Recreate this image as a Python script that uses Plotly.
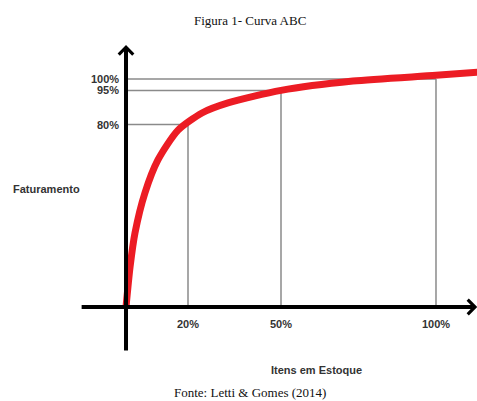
import plotly.graph_objects as go

# ---- data (percent) ----
itens_curve = [0, 1.3, 2.9, 6.1, 10.3, 16.8, 24.5, 32.9, 50, 73.2, 100, 113.5]
fatur_curve = [0, 17.5, 32.5, 50, 64.5, 77.6, 85.1, 89.5, 95, 99.1, 101.6, 103.0]

itens_ticks = [20, 50, 100]
itens_labels = ["20%", "50%", "100%"]
fatur_ticks = [80, 95, 100]
fatur_labels = ["80%", "95%", "100%"]

title_text = "Figura 1- Curva ABC"
source_text = "Fonte: Letti & Gomes (2014)"
xlabel = "Itens em Estoque"
ylabel = "Faturamento"

W, H = 477, 401
# axis ranges chosen so that the drawing fills the page
x_range = [-40.65, 113.23]
y_range = [-41.23, 134.65]

fig = go.Figure()

RED = "#ec1c24"
GRAY = "#8a8a8a"
LABEL_FONT = dict(family="Liberation Sans, Arial, sans-serif", size=11, color="#333333")

shapes = []
for xv, yv in zip(itens_ticks, fatur_ticks):
    shapes.append(dict(type="line", xref="x", yref="y", x0=0, x1=xv, y0=yv, y1=yv,
                       line=dict(color=GRAY, width=1.5), layer="below"))
    shapes.append(dict(type="line", xref="x", yref="y", x0=xv, x1=xv, y0=0, y1=yv,
                       line=dict(color=GRAY, width=1.5), layer="below"))

fig.add_trace(go.Scatter(x=itens_curve, y=fatur_curve, mode="lines",
                         line=dict(color=RED, width=7, shape="spline", smoothing=0.7),
                         hoverinfo="skip", showlegend=False))

annotations = []
annotations.append(dict(x=0, y=114.9, ax=0, ay=-19.7, xref="x", yref="y", axref="x", ayref="y",
                        text="", showarrow=True, arrowhead=4, arrowsize=0.7, arrowwidth=4,
                        arrowcolor="black", standoff=0, startstandoff=0))
annotations.append(dict(x=113.3, y=0, ax=-14.8, ay=0, xref="x", yref="y", axref="x", ayref="y",
                        text="", showarrow=True, arrowhead=4, arrowsize=0.7, arrowwidth=4,
                        arrowcolor="black", standoff=0, startstandoff=0))

for v, t in zip(fatur_ticks, fatur_labels):
    annotations.append(dict(x=0, y=v, xref="x", yref="y", text="<b>%s</b>" % t, showarrow=False,
                            xanchor="right", yanchor="middle", xshift=-5, font=LABEL_FONT))
for v, t in zip(itens_ticks, itens_labels):
    annotations.append(dict(x=v, y=0, xref="x", yref="y", text="<b>%s</b>" % t, showarrow=False,
                            xanchor="center", yanchor="middle", yshift=-17, font=LABEL_FONT))

annotations.append(dict(x=316 / W, y=1 - 370 / H, xref="paper", yref="paper",
                        text="<b>%s</b>" % xlabel, showarrow=False,
                        xanchor="center", yanchor="middle", font=LABEL_FONT))
annotations.append(dict(x=11 / W, y=1 - 189 / H, xref="paper", yref="paper",
                        text="<b>%s</b>" % ylabel, showarrow=False,
                        xanchor="left", yanchor="middle", font=LABEL_FONT))
annotations.append(dict(x=250 / W, y=1 - 21 / H, xref="paper", yref="paper",
                        text=title_text, showarrow=False, xanchor="center", yanchor="middle",
                        font=dict(family="Liberation Serif, Times New Roman, serif", size=13, color="#111111")))
annotations.append(dict(x=250 / W, y=1 - 392 / H, xref="paper", yref="paper",
                        text=source_text, showarrow=False, xanchor="center", yanchor="middle",
                        font=dict(family="Liberation Serif, Times New Roman, serif", size=13, color="#111111")))

fig.update_layout(
    width=W, height=H,
    margin=dict(l=0, r=0, t=0, b=0),
    paper_bgcolor="white", plot_bgcolor="white",
    xaxis=dict(range=x_range, visible=False, fixedrange=True),
    yaxis=dict(range=y_range, visible=False, fixedrange=True),
    shapes=shapes, annotations=annotations,
    showlegend=False,
)

fig.write_html("out.html", config={"displayModeBar": False},
               post_script="document.body.style.margin='0';document.body.style.overflow='hidden';")
